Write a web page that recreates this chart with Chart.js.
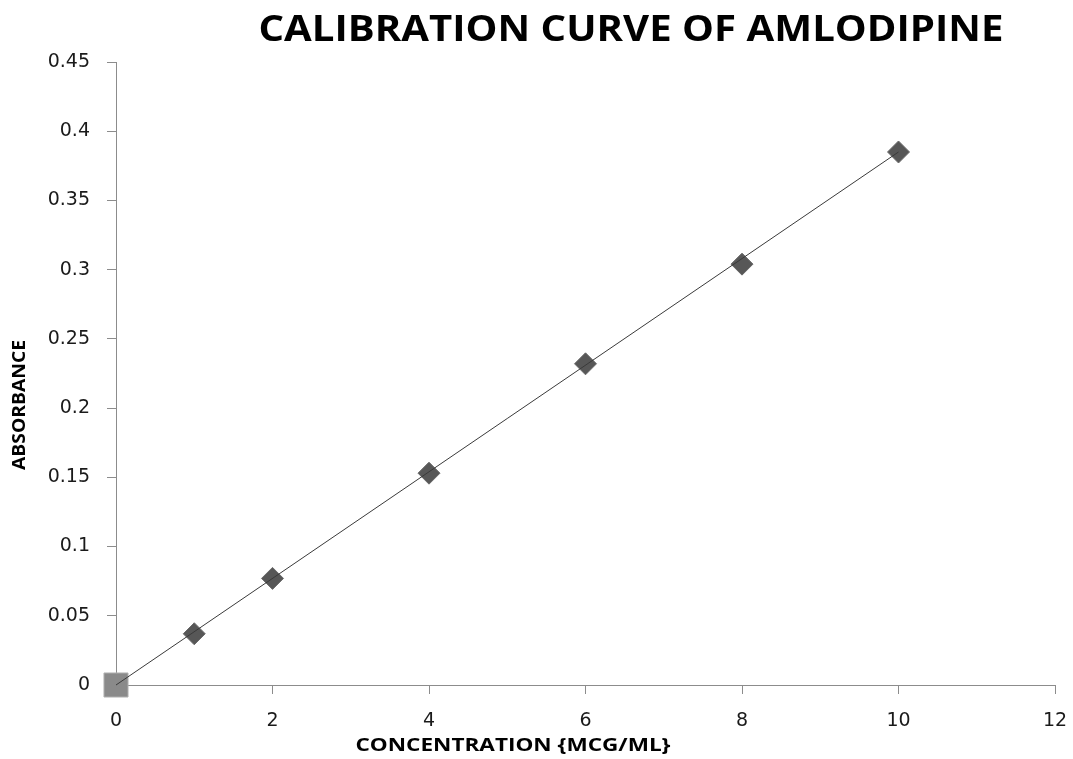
<!DOCTYPE html>
<html><head><meta charset="utf-8">
<script src="https://cdn.jsdelivr.net/npm/chart.js@4/dist/chart.umd.min.js"></script>
<style>html,body{margin:0;padding:0;background:#fff}#wrap{width:1073px;height:759px}</style>
</head><body><div id="wrap"><canvas id="c" width="1073" height="759"></canvas></div>
<script>
const concentration = [0, 1, 2, 4, 6, 8, 10];
const absorbance = [0, 0.037, 0.077, 0.153, 0.232, 0.304, 0.385];
const trendX = [0, 10];
const trendY = [0, 0.385];
const xTicks = [0, 2, 4, 6, 8, 10, 12];
const yTicks = [0, 0.05, 0.1, 0.15, 0.2, 0.25, 0.3, 0.35, 0.4, 0.45];
const titleText = 'CALIBRATION CURVE OF AMLODIPINE';
const xTitle = 'CONCENTRATION {MCG/ML}';
const yTitle = 'ABSORBANCE';

const pts = concentration.map((x, i) => ({x: x, y: absorbance[i]}));
const trend = trendX.map((x, i) => ({x: x, y: trendY[i]}));

function stretchedText(ctx, text, cx, cy, font, targetW) {
  ctx.save();
  ctx.font = font;
  const w = ctx.measureText(text).width;
  const sx = targetW / w;
  ctx.translate(cx, cy);
  ctx.scale(sx, 1);
  ctx.fillText(text, 0, 0);
  ctx.restore();
}

const textPlugin = {
  id: 'texts',
  afterDraw(chart) {
    const ctx = chart.ctx;
    ctx.save();
    ctx.fillStyle = '#000';
    ctx.textAlign = 'center';
    ctx.textBaseline = 'middle';
    stretchedText(ctx, titleText, 631, 31, 'bold 35px "Open Sans"', 745);
    stretchedText(ctx, xTitle, 513, 746, 'bold 18px "Open Sans"', 315);
    ctx.translate(20, 405);
    ctx.rotate(-Math.PI / 2);
    stretchedText(ctx, yTitle, 0, 0, 'bold 18px "Open Sans"', 130);
    ctx.restore();
  }
};

new Chart(document.getElementById('c'), {
  type: 'scatter',
  data: {
    datasets: [
      {
        label: 'Trend',
        type: 'line',
        data: trend,
        borderColor: '#3a3a3a',
        borderWidth: 1,
        pointRadius: 0,
        fill: false,
        order: 0,
        clip: false
      },
      {
        label: 'Origin',
        data: [pts[0]],
        pointStyle: 'rect',
        pointRadius: 17,
        pointHoverRadius: 17,
        backgroundColor: '#8a8a8a',
        borderColor: '#b0b0b0',
        borderWidth: 1,
        order: 1,
        clip: false
      },
      {
        label: 'Absorbance',
        data: pts,
        pointStyle: 'rectRot',
        pointRadius: 11,
        pointHoverRadius: 11,
        backgroundColor: '#575757',
        borderColor: '#6a6a6a',
        borderWidth: 1,
        order: 2,
        clip: false
      }
    ]
  },
  options: {
    responsive: false,
    animation: false,
    layout: {padding: {left: 0, right: 18, top: 62, bottom: 0}},
    plugins: {legend: {display: false}, tooltip: {enabled: false}, title: {display: false}},
    scales: {
      x: {
        type: 'linear', min: 0, max: 12,
        afterBuildTicks: s => { s.ticks = xTicks.map(v => ({value: v})); },
        afterFit: s => { s.height = 74; s.paddingRight = 0; s.paddingLeft = 0; },
        grid: {drawOnChartArea: false, tickLength: 9, color: '#8c8c8c'},
        border: {color: '#8c8c8c', width: 1},
        ticks: {font: {family: 'DejaVu Sans', size: 19}, color: '#1a1a1a', padding: 16, maxRotation: 0}
      },
      y: {
        type: 'linear', min: 0, max: 0.45,
        afterBuildTicks: s => { s.ticks = yTicks.map(v => ({value: v})); },
        afterFit: s => { s.width = 116; s.paddingTop = 0; s.paddingBottom = 0; },
        grid: {drawOnChartArea: false, tickLength: 9, color: '#8c8c8c'},
        border: {color: '#8c8c8c', width: 1},
        ticks: {font: {family: 'DejaVu Sans', size: 19}, color: '#1a1a1a', padding: 17,
          callback: v => String(v)}
      }
    }
  },
  plugins: [textPlugin]
});
</script>
</body></html>
